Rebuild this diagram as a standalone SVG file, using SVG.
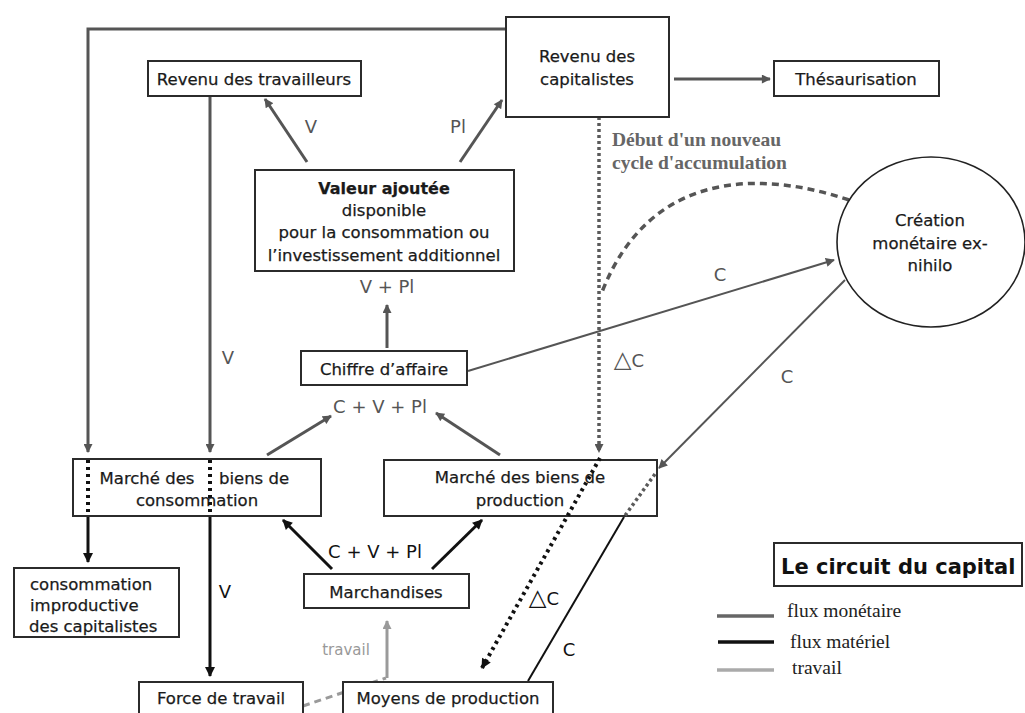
<svg xmlns="http://www.w3.org/2000/svg" width="1025" height="713" viewBox="0 0 1025 713">
<style>
.box{fill:#fff;stroke:#2b2b2b;stroke-width:2}
.t{font-family:"DejaVu Sans",sans-serif;font-size:16.5px;fill:#1a1a1a;text-anchor:middle;stroke:#1a1a1a;stroke-width:0.25}
.b{font-weight:bold}
.lbl{font-family:"DejaVu Sans",sans-serif;font-size:18px;fill:#555;text-anchor:middle}
.lblk{font-family:"DejaVu Sans",sans-serif;font-size:18px;fill:#111;text-anchor:middle}
.tri{font-size:23px}
.serif{font-family:"Liberation Serif",serif;font-size:19.5px;fill:#222}
.m{fill:none;stroke:#555;stroke-width:3}
.mt{fill:none;stroke:#555;stroke-width:2}
.k{fill:none;stroke:#111;stroke-width:3}
.kt{fill:none;stroke:#111;stroke-width:2}
.w{fill:none;stroke:#9a9a9a;stroke-width:3}
.dotg{fill:none;stroke:#5a5a5a;stroke-width:3.5;stroke-dasharray:3 3}
.dotk{fill:none;stroke:#111;stroke-width:4;stroke-dasharray:3 4}
.dashg{fill:none;stroke:#555;stroke-width:3.5;stroke-dasharray:7 5}
</style>
<defs>
<marker id="ag" viewBox="0 0 10 10" refX="9" refY="5" markerWidth="10" markerHeight="9" markerUnits="userSpaceOnUse" orient="auto"><path d="M0,0 L10,5 L0,10 z" fill="#555"/></marker>
<marker id="ak" viewBox="0 0 10 10" refX="9" refY="5" markerWidth="11" markerHeight="10" markerUnits="userSpaceOnUse" orient="auto"><path d="M0,0 L10,5 L0,10 z" fill="#111"/></marker>
<marker id="aw" viewBox="0 0 10 10" refX="9" refY="5" markerWidth="10" markerHeight="9" markerUnits="userSpaceOnUse" orient="auto"><path d="M0,0 L10,5 L0,10 z" fill="#9a9a9a"/></marker>
</defs>

<g id="connectors">
<path class="m" d="M506,29 H88 V452" marker-end="url(#ag)"/>
<path class="m" d="M210,96 V452" marker-end="url(#ag)"/>
<path class="m" d="M674,79 H770" marker-end="url(#ag)"/>
<path class="m" d="M307,162 L265,99" marker-end="url(#ag)"/>
<path class="m" d="M460,162 L502,100" marker-end="url(#ag)"/>
<path class="m" d="M387,348 V305" marker-end="url(#ag)"/>
<path class="m" d="M267,455 L331,416" marker-end="url(#ag)"/>
<path class="m" d="M500,455 L436,413" marker-end="url(#ag)"/>
<path class="mt" d="M468,371 L834,260" marker-end="url(#ag)"/>
<path class="mt" d="M845,280 L659,468" marker-end="url(#ag)"/>
<path class="dotg" d="M599,117 V452" marker-end="url(#ag)"/>
<path class="dashg" d="M849,200 C760,170 650,170 602,292"/>
<path class="k" d="M88,516 V562" marker-end="url(#ak)"/>
<path class="k" d="M210,516 V676" marker-end="url(#ak)"/>
<path class="k" d="M332,569 L283,520" marker-end="url(#ak)"/>
<path class="k" d="M432,569 L482,520" marker-end="url(#ak)"/>
<path class="kt" d="M624,517 L528,681"/>
<path class="w" d="M387,678 V621" marker-end="url(#aw)"/>
<path class="w" d="M303,706 L386,678" stroke-dasharray="7 5"/>
</g>

<g id="revenu-travailleurs"><rect class="box" x="148" y="61" width="213" height="35"/><text class="t" x="254" y="85">Revenu des travailleurs</text></g>
<g id="revenu-capitalistes"><rect class="box" x="506" y="17" width="163" height="100"/><text class="t" x="587" y="62">Revenu des</text><text class="t" x="587" y="85">capitalistes</text></g>
<g id="thesaurisation"><rect class="box" x="774" y="61" width="165" height="35"/><text class="t" x="856" y="85">Thésaurisation</text></g>
<g id="valeur-ajoutee"><rect class="box" x="255" y="170" width="259" height="101"/>
<text class="t b" x="384" y="194" font-size="16" style="font-size:16px">Valeur ajoutée</text>
<text class="t" x="384" y="216">disponible</text>
<text class="t" x="384" y="238">pour la consommation ou</text>
<text class="t" x="384" y="261">l’investissement additionnel</text></g>
<g id="chiffre-affaire"><rect class="box" x="301" y="351" width="166" height="34"/><text class="t" x="384" y="375">Chiffre d’affaire</text></g>
<g id="marche-consommation"><rect class="box" x="73" y="459" width="248" height="57"/>
<text class="t" x="147" y="484">Marché des</text><text class="t" x="254" y="484">biens de</text>
<text class="t" x="197" y="506">consommation</text></g>
<g id="marche-production"><rect class="box" x="384" y="460" width="273" height="56"/>
<text class="t" x="520" y="483">Marché des biens de</text><text class="t" x="520" y="506">production</text></g>
<g id="consommation-improductive"><rect class="box" x="14" y="568" width="165" height="69"/>
<text class="t" x="30" y="590" style="text-anchor:start">consommation</text>
<text class="t" x="30" y="611" style="text-anchor:start">improductive</text>
<text class="t" x="29" y="632" style="text-anchor:start">des capitalistes</text></g>
<g id="marchandises"><rect class="box" x="304" y="574" width="165" height="34"/><text class="t" x="386" y="598">Marchandises</text></g>
<g id="force-travail"><rect class="box" x="139" y="682" width="164" height="40"/><text class="t" x="221" y="704">Force de travail</text></g>
<g id="moyens-production"><rect class="box" x="343" y="682" width="210" height="40"/><text class="t" x="448" y="704">Moyens de production</text></g>
<g id="creation-monetaire"><ellipse cx="931" cy="242" rx="94" ry="85" fill="#fff" stroke="#222" stroke-width="1.6"/>
<text class="t" x="930" y="226">Création</text><text class="t" x="930" y="249">monétaire ex-</text><text class="t" x="930" y="271">nihilo</text></g>

<g id="overlay-connectors">
<path class="dotk" d="M88,460 V516"/>
<path class="dotk" d="M210,460 V516"/>
<path class="dotk" d="M600,458 L482,668" marker-end="url(#ak)"/>
<path class="dotg" d="M655,474 L624,517" stroke-width="3"/>
</g>

<g id="labels">
<text class="lbl" x="311" y="133">V</text>
<text class="lbl" x="458" y="133">Pl</text>
<text class="lbl" x="387" y="293">V + Pl</text>
<text class="lbl" x="380" y="413">C + V + Pl</text>
<text class="lbl" x="228" y="364">V</text>
<text class="lbl" x="720" y="281">C</text>
<text class="lbl" x="629" y="367"><tspan class="tri">△</tspan>C</text>
<text class="lbl" x="787" y="383">C</text>
<text class="lblk" x="375" y="558">C + V + Pl</text>
<text class="lblk" x="225" y="598">V</text>
<text class="lbl" x="346" y="655" style="font-size:15px;fill:#999">travail</text>
<text class="lblk" x="544" y="605"><tspan class="tri">△</tspan>C</text>
<text class="lblk" x="569" y="656">C</text>
<text class="serif" x="612" y="146" font-weight="bold" style="fill:#666">Début d'un nouveau</text>
<text class="serif" x="612" y="169" font-weight="bold" style="fill:#666">cycle d'accumulation</text>
</g>

<g id="legend">
<rect class="box" x="774" y="543" width="248" height="43"/>
<text x="781" y="574" style="font-family:'DejaVu Sans',sans-serif;font-size:21px;font-weight:bold;fill:#111">Le circuit du capital</text>
<line x1="717" y1="616" x2="774" y2="616" stroke="#666" stroke-width="3.5"/>
<line x1="718" y1="642" x2="774" y2="642" stroke="#111" stroke-width="3.5"/>
<line x1="717" y1="670" x2="774" y2="670" stroke="#aaa" stroke-width="3.5"/>
<text class="serif" x="787" y="617">flux monétaire</text>
<text class="serif" x="790" y="648">flux matériel</text>
<text class="serif" x="792" y="674">travail</text>
</g>
</svg>
